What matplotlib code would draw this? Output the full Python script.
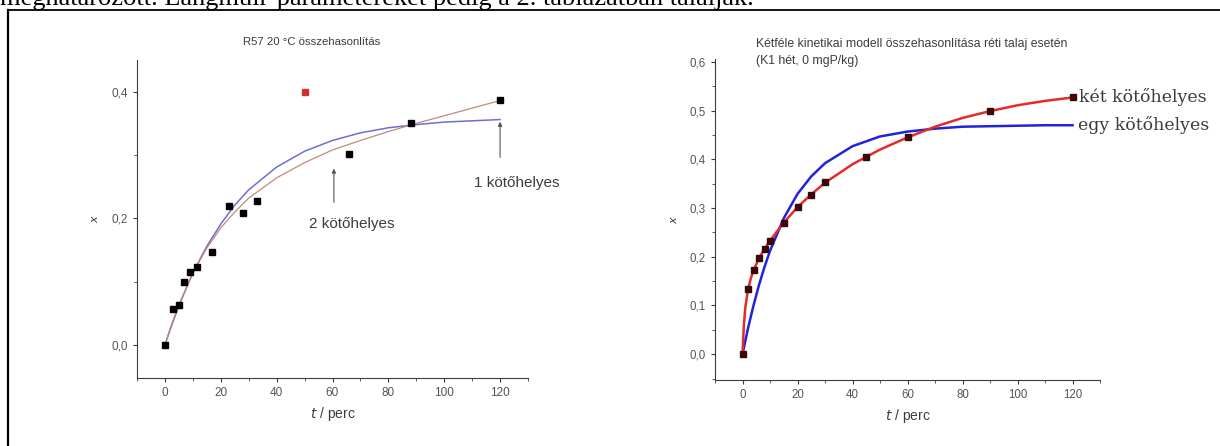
import matplotlib.pyplot as plt
from matplotlib.ticker import MultipleLocator, FuncFormatter

# ---- left chart: R57 20 C
t_left = [0, 3, 5, 7, 9, 11.5, 17, 23, 28, 33, 66, 88, 120]
x_left = [0.0, 0.057, 0.064, 0.099, 0.115, 0.124, 0.147, 0.220, 0.209, 0.227, 0.302, 0.350, 0.387]
t_outlier = [50]
x_outlier = [0.400]

# fitted curves
t_fit_left = [0, 2, 5, 10, 15, 20, 25, 30, 40, 50, 60, 70, 80, 90, 100, 110, 120]
x_one_left = [0.0, 0.026, 0.062, 0.114, 0.156, 0.191, 0.221, 0.245, 0.281, 0.306, 0.323,
              0.335, 0.343, 0.348, 0.352, 0.354, 0.356]
x_two_left = [0.0, 0.028, 0.064, 0.114, 0.153, 0.185, 0.210, 0.232, 0.264, 0.288, 0.308,
              0.323, 0.337, 0.350, 0.362, 0.374, 0.386]

# ---- right chart: reti talaj
t_right = [0, 2, 4, 6, 8, 10, 15, 20, 25, 30, 45, 60, 90, 120]
x_right = [0.0, 0.133, 0.172, 0.197, 0.216, 0.233, 0.270, 0.302, 0.327, 0.353, 0.405, 0.445, 0.500, 0.527]

t_fit_two = [0, 0.5, 1, 2, 3, 4, 6, 8, 10, 15, 20, 25, 30, 40, 50, 60, 70, 80, 90, 100, 110, 120]
x_two_right = [0.0, 0.060, 0.095, 0.133, 0.155, 0.172, 0.197, 0.216, 0.233, 0.270, 0.302, 0.328,
               0.352, 0.390, 0.420, 0.445, 0.467, 0.485, 0.499, 0.511, 0.520, 0.527]
t_fit_one = [0, 2, 4, 6, 8, 10, 15, 20, 25, 30, 40, 50, 60, 70, 80, 90, 100, 110, 120]
x_one_right = [0.0, 0.053, 0.100, 0.142, 0.179, 0.212, 0.279, 0.329, 0.365, 0.392, 0.427,
               0.447, 0.457, 0.463, 0.467, 0.468, 0.469, 0.470, 0.470]

GRAY = "#3c3c3c"
SANS = "Liberation Sans"
SERIF = "Liberation Serif"

plt.rcParams["font.family"] = SANS
plt.rcParams["axes.edgecolor"] = GRAY
plt.rcParams["xtick.color"] = GRAY
plt.rcParams["ytick.color"] = GRAY

fig = plt.figure(figsize=(12.2, 4.46), dpi=100)

# page text (cut off at the top, as in the page scan) and box frame
fig.text(0.0, 1 - 5 / 446, "meghatározott. Langmuir-paramétereket pedig a 2. táblázatban találják.",
         family=SERIF, fontsize=19, ha="left", va="baseline", color="black")
fig.add_artist(plt.Line2D([8 / 1220, 1.0], [1 - 9.5 / 446, 1 - 9.5 / 446], color="black", lw=1.3))
fig.add_artist(plt.Line2D([8 / 1220, 8 / 1220], [0, 1 - 9.5 / 446], color="black", lw=1.6))

comma = FuncFormatter(lambda v, p: f"{v:.1f}".replace(".", ","))


def style_axes(ax, labelsize):
    ax.spines["top"].set_visible(False)
    ax.spines["right"].set_visible(False)
    ax.set_xlim(-10, 130)
    ax.xaxis.set_major_locator(MultipleLocator(20))
    ax.xaxis.set_minor_locator(MultipleLocator(10))
    ax.tick_params(which="major", direction="out", length=3, labelsize=labelsize, labelcolor="#555555")
    ax.tick_params(which="minor", direction="out", length=2)
    ax.yaxis.set_major_formatter(comma)
    ax.set_xlabel("$t$ / perc", fontsize=10, color=GRAY, labelpad=4)
    ax.set_ylabel("$x$", fontsize=8, color=GRAY, labelpad=8)


# ---- left
ax1 = fig.add_axes([137 / 1220, 1 - 378 / 446, 391 / 1220, 318 / 446])
style_axes(ax1, 8.5)
ax1.set_ylim(-0.052, 0.45)
ax1.yaxis.set_major_locator(MultipleLocator(0.2))
ax1.yaxis.set_minor_locator(MultipleLocator(0.1))
ax1.plot(t_fit_left, x_one_left, color="#6e6ed2", lw=1.1)
ax1.plot(t_fit_left, x_two_left, color="#c48a7a", lw=0.9)
ax1.plot(t_left, x_left, "s", color="black", ms=4.8)
ax1.plot(t_outlier, x_outlier, "s", color="#d03030", ms=4.5)
ax1.annotate("", xy=(120, 0.357), xytext=(120, 0.292),
             arrowprops=dict(arrowstyle="-|>", color="#555555", lw=0.8, mutation_scale=6))
ax1.text(126, 0.256, "1 kötőhelyes", ha="center", va="center", fontsize=11, color=GRAY)
ax1.annotate("", xy=(60.5, 0.283), xytext=(60.5, 0.221),
             arrowprops=dict(arrowstyle="-|>", color="#555555", lw=0.8, mutation_scale=6))
ax1.text(67, 0.191, "2 kötőhelyes", ha="center", va="center", fontsize=11, color=GRAY)
fig.text(312 / 1220, 1 - 42 / 446, "R57 20 °C összehasonlítás", ha="center", va="center",
         fontsize=8.2, color=GRAY)

# ---- right
ax2 = fig.add_axes([715 / 1220, 1 - 380 / 446, 385 / 1220, 321 / 446])
style_axes(ax2, 8.3)
ax2.set_ylim(-0.053, 0.606)
ax2.yaxis.set_major_locator(MultipleLocator(0.1))
ax2.yaxis.set_minor_locator(MultipleLocator(0.05))
ax2.plot(t_fit_one, x_one_right, color="#2222dd", lw=1.8)
ax2.plot(t_fit_two, x_two_right, color="#e52a2a", lw=1.8)
ax2.plot(t_right, x_right, "s", color="#3a0808", ms=4.0)
ax2.text(122.5, 0.527, "két kötőhelyes", ha="left", va="center", family="DejaVu Serif",
         fontsize=12.5, color=GRAY, clip_on=False)
ax2.text(122, 0.470, "egy kötőhelyes", ha="left", va="center", family="DejaVu Serif",
         fontsize=12.5, color=GRAY, clip_on=False)
fig.text(756 / 1220, 1 - 44 / 446, "Kétféle kinetikai modell összehasonlítása réti talaj esetén",
         ha="left", va="center", fontsize=8.8, color=GRAY)
fig.text(756 / 1220, 1 - 61 / 446, "(K1 hét, 0 mgP/kg)", ha="left", va="center",
         fontsize=8.8, color=GRAY)

fig.savefig("out.png", dpi=100)
